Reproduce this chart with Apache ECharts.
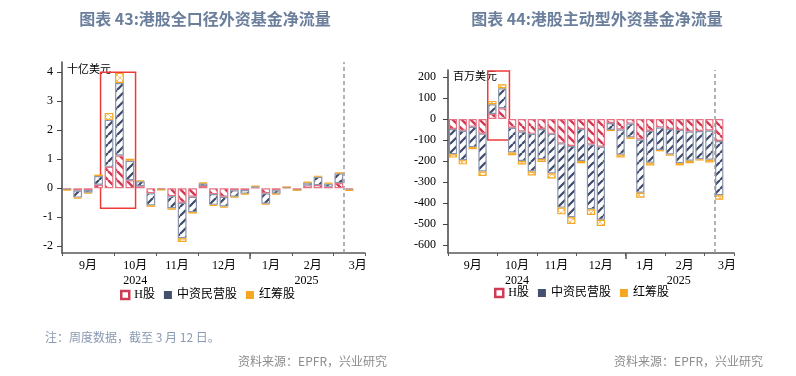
<!DOCTYPE html>
<html>
<head>
<meta charset="utf-8">
<script src="https://cdn.jsdelivr.net/npm/echarts@6/dist/echarts.min.js"></script>
<style>
  html, body { margin: 0; padding: 0; background: #fff; }
  #chart { width: 796px; height: 376px; }
</style>
</head>
<body>
<div id="chart"></div>
<script>
// 周度（按周一）
var weeks = ['2024-09-02','2024-09-09','2024-09-16','2024-09-23','2024-09-30',
  '2024-10-07','2024-10-14','2024-10-21','2024-10-28',
  '2024-11-04','2024-11-11','2024-11-18','2024-11-25',
  '2024-12-02','2024-12-09','2024-12-16','2024-12-23','2024-12-30',
  '2025-01-06','2025-01-13','2025-01-20','2025-01-27',
  '2025-02-03','2025-02-10','2025-02-17','2025-02-24',
  '2025-03-03','2025-03-10','2025-03-17']

// 月份刻度（以周为单位）
var monthTicks = [0, 5, 9, 13, 18, 22, 26, 29]
var monthLabelPos = [2.5, 7, 11, 15.5, 20, 24, 28.3]
var monthLabels = ['9月', '10月', '11月', '12月', '1月', '2月', '3月']
var yearLabelPos = [7, 23.4]
var yearLabels = ['2024', '2025']
var yearTick = [18]

// 图表43 全口径（十亿美元）
var allH = [-0.03,-0.08,-0.06,0.12,0.74,1.13,0.28,0.07,-0.17,-0.03,-0.27,-0.5,-0.29,0.08,-0.2,-0.29,-0.07,-0.06,0.02,-0.17,-0.07,0.03,-0.05,0.1,0.11,0.05,0.18,-0.03,null]
var allPrivate = [-0.02,-0.24,-0.09,0.3,1.62,2.5,0.67,0.17,-0.42,-0.02,-0.42,-1.22,-0.53,0.09,-0.37,-0.34,-0.22,-0.13,0.05,-0.36,-0.12,0.01,-0.01,0.1,0.29,0.11,0.34,-0.04,null]
var allRed = [-0.03,-0.04,-0.04,0.05,0.24,0.35,0.07,0.04,-0.05,-0.01,-0.05,-0.13,-0.05,0.03,-0.04,-0.04,-0.03,-0.02,0.02,-0.04,-0.02,0.01,0,0.03,0.03,0.03,0.03,-0.01,null]
var allTicks = [-2, -1, 0, 1, 2, 3, 4]

// 图表44 主动型（百万美元）
var actH = [-48,-56,-37,-70,24,51,-42,-60,-71,-48,-71,-116,-129,-48,-121,-132,-19,-50,-22,-98,-56,-41,-48,-52,-60,-57,-55,-105,null]
var actPrivate = [-120,-140,-97,-180,46,95,-118,-140,-179,-143,-188,-306,-339,-152,-309,-348,-33,-120,-66,-253,-152,-107,-121,-158,-139,-135,-139,-258,null]
var actRed = [-16,-20,-10,-21,16,19,-13,-17,-19,-14,-24,-32,-32,-11,-27,-29,-6,-13,-7,-24,-13,-6,-6,-11,-12,-6,-13,-21,null]
var actTicks = [-600, -500, -400, -300, -200, -100, 0, 100, 200]

// 标注：虚线位置、红框范围
var cutAll = 26.95, cutAct = 27
var boxAll = [[3.69, 4.0], [7.04, -0.69]]
var boxAct = [[4.03, 228], [6.23, -100]]

var serif = "'Liberation Serif', 'Noto Sans CJK SC'"

// 斜线填充
function hatch(color, dir, size, lw) {
    var c = document.createElement('canvas')
    c.width = size; c.height = size
    var g = c.getContext('2d')
    g.fillStyle = '#fff'
    g.fillRect(0, 0, size, size)
    g.strokeStyle = color
    g.lineWidth = lw
    g.beginPath()
    for (var k = -1; k <= 1; k++) {
        if (dir === '/' || dir === 'x') { g.moveTo(k * size, size); g.lineTo(k * size + size, 0) }
        if (dir === '\\' || dir === 'x') { g.moveTo(k * size, 0); g.lineTo(k * size + size, size) }
    }
    g.stroke()
    return { image: c, repeat: 'repeat' }
}

var styleH = { color: hatch('#d13a55', '\\', 9, 2.4), borderColor: '#e67384', borderWidth: 1.2 }
var stylePrivate = { color: hatch('#3d4a6b', '/', 9, 2.2), borderColor: '#8a95ad', borderWidth: 1.2 }
var styleRed = { color: hatch('#f8c777', 'x', 6, 1), borderColor: '#f5a623', borderWidth: 1.2 }

function bars(names, datas, styles, xi, yi, stack) {
    return names.map(function (n, i) {
        return {
            name: n, type: 'bar', stack: stack, xAxisIndex: xi, yAxisIndex: yi,
            barCategoryGap: '16%', itemStyle: styles[i], data: datas[i]
        }
    })
}

function monthAxes(grid) {
    return [
        { type: 'category', gridIndex: grid, data: weeks, show: false },
        {
            type: 'value', gridIndex: grid, min: 0, max: 29, position: 'bottom',
            splitLine: { show: false },
            axisLine: { show: true, lineStyle: { color: '#595959', width: 1.5 } },
            axisTick: { show: true, customValues: monthTicks, length: 3, lineStyle: { color: '#595959' } },
            axisLabel: {
                customValues: monthLabelPos, margin: 7, color: '#000', fontFamily: serif, fontSize: 12,
                formatter: function (v) { return monthLabels[monthLabelPos.indexOf(v)] }
            }
        },
        {
            type: 'value', gridIndex: grid, min: 0, max: 29, position: 'bottom',
            splitLine: { show: false },
            axisLine: { show: false },
            axisTick: { show: true, customValues: yearTick, length: 6, lineStyle: { color: '#595959', width: 1.5 } },
            axisLabel: {
                customValues: yearLabelPos, margin: 22, color: '#000', fontFamily: serif, fontSize: 12,
                formatter: function (v) { return yearLabels[yearLabelPos.indexOf(v)] }
            }
        }
    ]
}

function valueAxis(grid, min, max, ticks, name, gap, margin) {
    return {
        type: 'value', gridIndex: grid, min: min, max: max,
        name: name, nameLocation: 'end', nameGap: gap,
        nameTextStyle: { align: 'left', verticalAlign: 'middle', padding: [0, 0, 0, 5], color: '#000', fontFamily: serif, fontSize: 11 },
        splitLine: { show: false },
        axisLine: { show: true, lineStyle: { color: '#444', width: 1.5 } },
        axisTick: { show: true, customValues: ticks, length: 5, lineStyle: { color: '#444' } },
        axisLabel: { customValues: ticks, margin: margin, color: '#000', fontFamily: serif, fontSize: 12 }
    }
}

function marks(xi, yi, cut, box) {
    return {
        type: 'line', xAxisIndex: xi, yAxisIndex: yi, data: [], z: 5, silent: true,
        markLine: {
            silent: true, symbol: 'none', label: { show: false },
            lineStyle: { type: [4, 3], color: '#9a9a9a', width: 1.5 },
            data: [{ xAxis: cut }]
        },
        markArea: {
            silent: true,
            itemStyle: { color: 'rgba(0,0,0,0)', borderColor: '#f03a3a', borderWidth: 1.5 },
            data: [[{ coord: box[0] }, { coord: box[1] }]]
        }
    }
}

var names = ['H股', '中资民营股', '红筹股']
var legendData = [
    { name: 'H股', itemStyle: { color: '#fff', borderColor: '#cf3d55', borderWidth: 2.5 } },
    { name: '中资民营股', itemStyle: { color: '#44506e', borderWidth: 0 } },
    { name: '红筹股', itemStyle: { color: '#f5a623', borderWidth: 0 } }
]
var legendText = { color: '#000', fontFamily: serif, fontSize: 12 }
var titleText = { color: '#6b7f9d', fontSize: 16, fontWeight: 'bold', fontFamily: 'Noto Sans CJK SC' }
var noteText = { color: '#8a9ab3', fontSize: 12, fontWeight: 'normal', fontFamily: 'Noto Sans CJK SC' }
var srcText = { color: '#8c8c8c', fontSize: 12, fontWeight: 'normal', fontFamily: 'Noto Sans CJK SC' }

var myChart = echarts.init(document.getElementById('chart'), null, { renderer: 'canvas' })
myChart.setOption({
    animation: false,
    title: [
        { text: '图表 43:港股全口径外资基金净流量', left: 205, top: 11, padding: 0, textAlign: 'center', textStyle: titleText },
        { text: '图表 44:港股主动型外资基金净流量', left: 597, top: 11, padding: 0, textAlign: 'center', textStyle: titleText },
        { text: '注：周度数据，截至 3 月 12 日。', left: 45, top: 331, padding: 0, textStyle: noteText },
        { text: '资料来源：EPFR，兴业研究', right: 409, top: 355, padding: 0, textStyle: srcText },
        { text: '资料来源：EPFR，兴业研究', right: 33, top: 355, padding: 0, textStyle: srcText }
    ],
    legend: [
        { data: legendData, left: 120, top: 289, padding: 0, itemWidth: 8, itemHeight: 8, itemGap: 9, textStyle: legendText, icon: 'rect', selectedMode: false },
        { data: legendData, left: 494, top: 287, padding: 0, itemWidth: 8, itemHeight: 8, itemGap: 9, textStyle: legendText, icon: 'rect', selectedMode: false }
    ],
    grid: [
        { left: 62, right: 431, top: 62, bottom: 123 },
        { left: 448, right: 62, top: 70, bottom: 123 }
    ],
    xAxis: monthAxes(0).concat(monthAxes(1)),
    yAxis: [
        valueAxis(0, -2.231, 4.355, allTicks, '十亿美元', -8, 9),
        valueAxis(1, -638, 233, actTicks, '百万美元', -7, 12)
    ],
    series: bars(names, [allH, allPrivate, allRed], [styleH, stylePrivate, styleRed], 0, 0, 'all')
        .concat(bars(names, [actH, actPrivate, actRed], [styleH, stylePrivate, styleRed], 3, 1, 'act'))
        .concat([marks(1, 0, cutAll, boxAll), marks(4, 1, cutAct, boxAct)])
})
</script>
</body>
</html>
